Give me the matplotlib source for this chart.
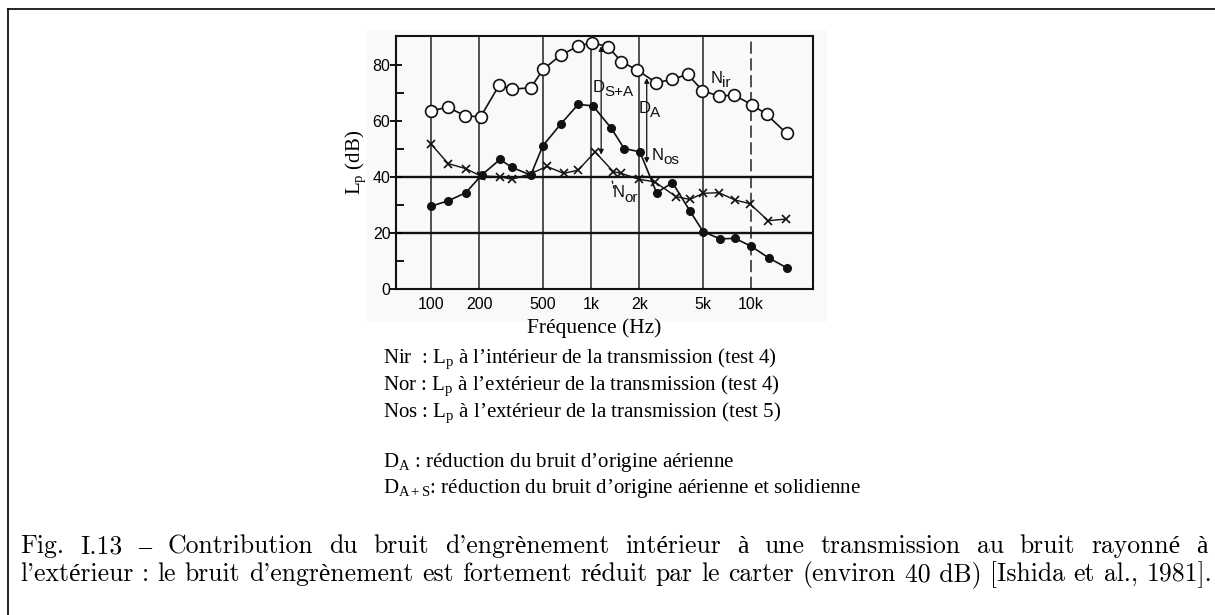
import matplotlib
matplotlib.use('Agg')
import matplotlib.pyplot as plt
from matplotlib.lines import Line2D
from matplotlib.patches import Rectangle
from matplotlib.ticker import NullLocator
from matplotlib.transforms import IdentityTransform

# ---------------- data ----------------
freq_ir = [100, 127, 164, 204, 267, 320, 420, 503, 648, 832, 1020, 1280, 1550,
           1950, 2550, 3220, 4020, 4970, 6300, 7800, 10100, 12500, 16700]
nir_db = [63.7, 64.9, 61.9, 61.5, 72.9, 71.4, 71.9, 78.5, 83.6, 86.8, 88.0, 86.5, 81.2,
          78.2, 73.7, 74.9, 76.7, 70.9, 68.9, 69.3, 65.9, 62.4, 55.6]

freq_os = [100, 128, 165, 207, 270, 319, 420, 499, 646, 832, 1030, 1340, 1610,
           2020, 2570, 3230, 4150, 5020, 6400, 7940, 9990, 13000, 16700]
nos_db = [29.6, 31.5, 34.4, 40.7, 46.3, 43.5, 40.7, 51.1, 58.9, 66.0, 65.4, 57.4, 50.2,
          49.0, 34.4, 38.0, 27.9, 20.5, 17.9, 18.1, 15.3, 11.0, 7.6]

freq_or = [100, 128, 165, 204, 270, 320, 416, 530, 676, 832, 1060, 1380, 1550,
           2000, 2500, 3400, 4150, 5020, 6300, 7950, 9820, 12800, 16600]
nor_db = [51.8, 44.8, 43.0, 40.4, 40.1, 39.2, 41.1, 43.8, 41.3, 42.5, 49.0, 41.9, 41.3,
          39.2, 38.3, 33.0, 32.0, 34.2, 34.4, 31.8, 30.5, 24.4, 25.0]

tick_freqs = [100, 200, 500, 1000, 2000, 5000, 10000]
tick_labels = ['100', '200', '500', '1k', '2k', '5k', '10k']
y_major = [0, 20, 40, 60, 80]
y_minor = [10, 30, 50, 70]

# curve labels: (main letter, subscript, freq, dB)
curve_labels = [
    ("D", "S+A", 1026, 70.4),
    ("D", "A", 1990, 63.0),
    ("N", "os", 2390, 46.2),
    ("N", "or", 1371, 32.8),
    ("N", "ir", 5560, 73.6),
]

legend_lines = [
    "Nir  : L$_{\\mathrm{p}}$ à l’intérieur de la transmission (test 4)",
    "Nor : L$_{\\mathrm{p}}$ à l’extérieur de la transmission (test 4)",
    "Nos : L$_{\\mathrm{p}}$ à l’extérieur de la transmission (test 5)",
]
d_lines = [
    "D$_{\\mathrm{A}}$ : réduction du bruit d’origine aérienne",
    "D$_{\\mathrm{A+S}}$: réduction du bruit d’origine aérienne et solidienne",
]
caption1 = "Fig. I.13 – Contribution du bruit d'engrènement intérieur à une transmission au bruit rayonné à"
caption2 = "l'extérieur : le bruit d'engrènement est fortement réduit par le carter (environ 40|dB) [Ishida et al., 1981]."

# ---------------- figure ----------------
W, H, DPI = 1215, 615, 100
plt.rcParams.update({
    'mathtext.fontset': 'custom',
    'mathtext.rm': 'Liberation Serif',
    'mathtext.it': 'Liberation Serif:italic',
    'mathtext.bf': 'Liberation Serif:bold',
    'mathtext.sf': 'Liberation Sans',
})
fig = plt.figure(figsize=(W / DPI, H / DPI), dpi=DPI)
fig.patch.set_facecolor('white')

# faint scanned-image background
fig.add_artist(Rectangle((367 / W, 1 - 322 / H), (827 - 367) / W, (322 - 30) / H,
                         transform=fig.transFigure, facecolor='#f9f9f9',
                         edgecolor='none', zorder=-5))
# outer frame (top and left)
fig.add_artist(Line2D([8 / W, 1.0], [1 - 9 / H, 1 - 9 / H], transform=fig.transFigure,
                      color='black', lw=1.2))
fig.add_artist(Line2D([8 / W, 8 / W], [1 - 9 / H, 0.0], transform=fig.transFigure,
                      color='black', lw=1.2))

ax = fig.add_axes([396 / W, 1 - 289 / H, (813 - 396) / W, (289 - 36) / H])
ax.set_facecolor('none')
ax.set_xscale('log')
ax.set_xlim(60.4, 24400)
ax.set_ylim(0, 90.4)
for s in ax.spines.values():
    s.set_linewidth(1.5)
    s.set_color('#111111')

# grid lines
for f in tick_freqs:
    ls = (0, (8, 3)) if f == 10000 else '-'
    ax.axvline(f, color='#222222', lw=1.1, ls=ls, zorder=1)
for yv in (20, 40):
    ax.axhline(yv, color='#111111', lw=1.7, zorder=1)

# curves
ax.plot(freq_or, nor_db, '-', marker='x', color='#111111', ms=5.5, mew=1.2, lw=1.0, zorder=3)
ax.plot(freq_os, nos_db, '-o', color='#111111', ms=5.5, lw=1.2, zorder=4)
ax.plot(freq_ir, nir_db, '-o', color='#111111', mfc='white', mec='#111111',
        ms=8.5, mew=1.2, lw=1.2, zorder=5)

# ticks
ax.set_xticks(tick_freqs)
ax.set_xticklabels(tick_labels)
ax.xaxis.set_minor_locator(NullLocator())
ax.tick_params(axis='x', length=0, pad=6, labelsize=11.5)
ax.set_yticks(y_major)
ax.set_yticks(y_minor, minor=True)
ax.tick_params(axis='y', which='major', direction='inout', length=8, width=1.3, pad=0, labelsize=11.5)
ax.tick_params(axis='y', which='minor', direction='in', length=6, width=1.3)
for lab in ax.get_xticklabels() + ax.get_yticklabels():
    lab.set_fontfamily('Liberation Sans')

ax.set_ylabel("L$_{\\mathrm{p}}$ (dB)", fontfamily='Liberation Serif', fontsize=15)
ax.yaxis.set_label_coords(-0.067, 0.5)

# annotations inside plot
for main, sub, fx, fy in curve_labels:
    ax.annotate(main, (fx, fy), fontfamily='Liberation Sans', fontsize=12,
                color='#111111', va='baseline', ha='left', zorder=6)
    ax.annotate(sub, (fx, fy), xytext=(8.2, -3.2), textcoords='offset points',
                fontfamily='Liberation Sans', fontsize=11, color='#111111',
                va='baseline', ha='left', zorder=6)

arr = dict(arrowstyle='<|-|>', lw=0.9, color='#111111', shrinkA=0, shrinkB=0, mutation_scale=7)
ax.annotate('', xy=(1157, 86.8), xytext=(1157, 48.0), arrowprops=arr)
ax.annotate('', xy=(2229, 75.4), xytext=(2229, 45.0), arrowprops=arr)
ax.annotate('', xy=(1348, 39.3), xytext=(1390, 36.0),
            arrowprops=dict(arrowstyle='-', lw=0.9, ls=(0, (2, 2)), color='#111111',
                            shrinkA=0, shrinkB=0))

# ---------------- texts below the chart ----------------
ident = IdentityTransform()
serif = dict(fontfamily='Liberation Serif', color='black', va='baseline', ha='left',
             transform=ident)
fig.text(527, H - 333, "Fréquence (Hz)", fontsize=15.5, **serif)
for i, t in enumerate(legend_lines):
    fig.text(383, H - (363 + 27 * i), t, fontsize=15, **serif)
for i, t in enumerate(d_lines):
    fig.text(383, H - (467 + 26 * i), t, fontsize=15, **serif)

# caption, justified
renderer = fig.canvas.get_renderer()
cap_family = ['cmr10', 'Liberation Serif']


def make_words(line):
    return [w.replace('|', ' ') for w in line.split(' ')]


def justify(words, x0, x1, ybase, size):
    arts = [fig.text(0, 0, w, fontsize=size, fontfamily=cap_family, va='baseline',
                     ha='left', transform=ident) for w in words]
    widths = [a.get_window_extent(renderer).width for a in arts]
    gap = (x1 - x0 - sum(widths)) / (len(words) - 1)
    x = x0
    for a, w in zip(arts, widths):
        a.set_position((x, H - ybase))
        x += w + gap


probe = fig.text(0, 0, caption2.replace('|', ' '), fontsize=16, fontfamily=cap_family,
                 transform=ident)
wnat = probe.get_window_extent(renderer).width
probe.remove()
cap_size = 16 * (1212 - 20) / wnat
justify(make_words(caption1), 20, 1208, 553, cap_size)
justify(make_words(caption2), 20, 1212, 581, cap_size)

fig.savefig('out.png', dpi=DPI, facecolor='white')
